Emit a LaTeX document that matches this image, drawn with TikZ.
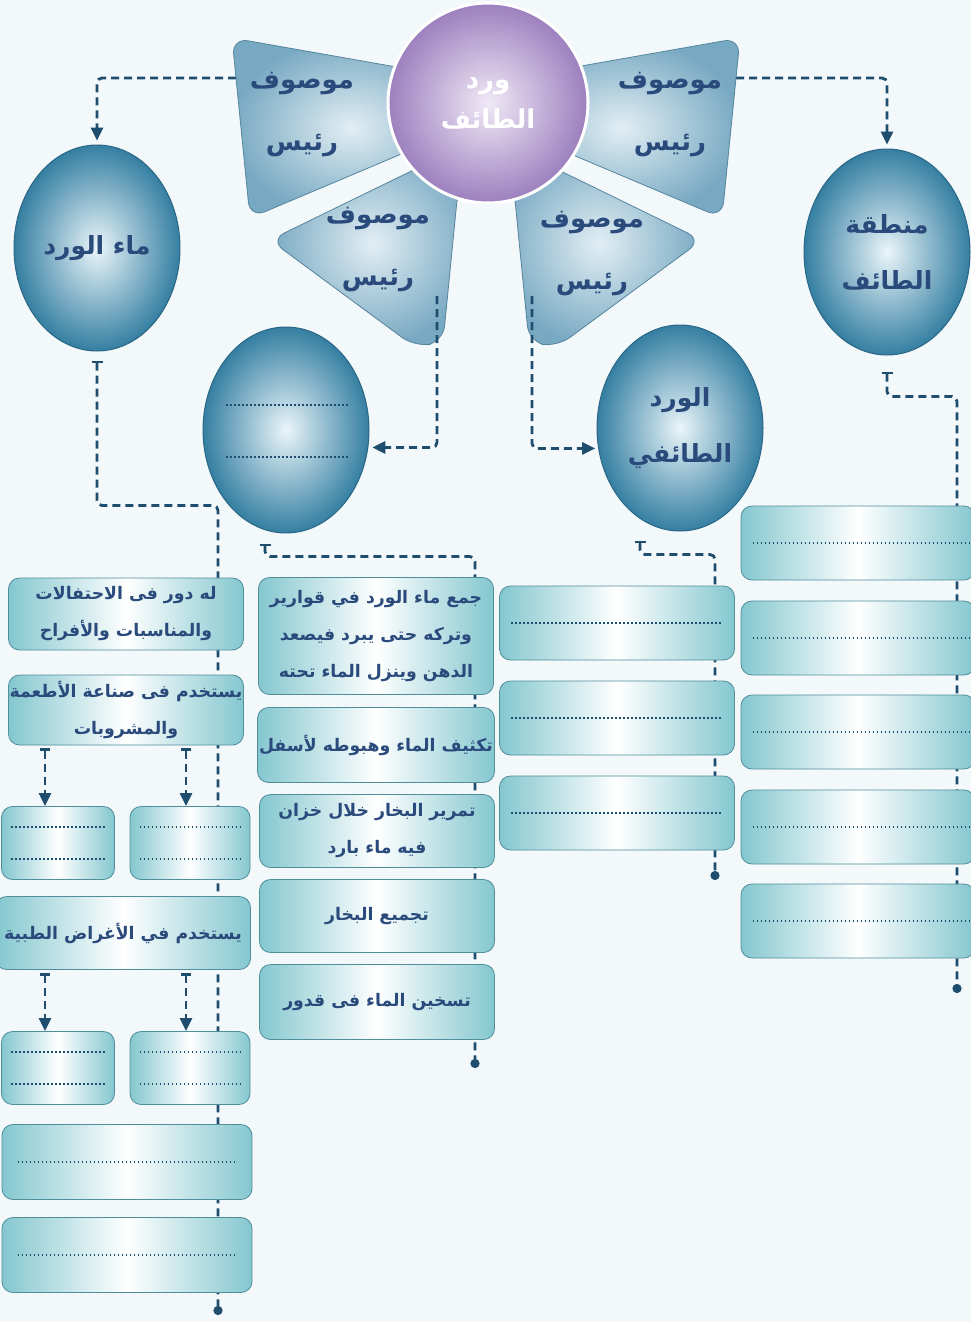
\documentclass[tikz,border=0pt]{standalone}
\usepackage{fontspec}
\usetikzlibrary{arrows.meta,shapes.geometric}
\newfontfamily\arabicfont[Script=Arabic]{DejaVu Sans}
\TeXXeTstate=1
\newcommand{\ar}[1]{\beginR#1\endR}
\definecolor{pageBack}{HTML}{F3F8FB}
\definecolor{bubbleEdge}{HTML}{357FA2}
\definecolor{bubbleCore}{HTML}{EAF5F9}
\definecolor{bubbleRule}{HTML}{2B6784}
\definecolor{petalEdge}{HTML}{78A9C2}
\definecolor{petalCore}{HTML}{E2EEF4}
\definecolor{petalRule}{HTML}{55849D}
\definecolor{hubEdge}{HTML}{9C80BE}
\definecolor{hubCore}{HTML}{F0E9F6}
\definecolor{boxTeal}{HTML}{84C7CF}
\definecolor{boxRule}{HTML}{4F8E9A}
\definecolor{inkNavy}{HTML}{2A4A7C}
\definecolor{linkNavy}{HTML}{1F4D6D}
\pgfdeclarelayer{back}
\pgfdeclarelayer{links}
\pgfsetlayers{back,links,main}

\begin{document}
\begin{tikzpicture}[x=1pt,y=-1pt,
    bubble/.style={ellipse,draw=bubbleRule,line width=1pt,
                   inner color=bubbleCore,outer color=bubbleEdge,
                   minimum width=166pt,minimum height=206pt,inner sep=0pt,
                   align=center,text=inkNavy,
                   font=\arabicfont\bfseries\fontsize{25}{56}\selectfont},
    petal/.style={draw=petalRule,line width=0.8pt,rounded corners=16pt,
                  inner color=petalCore,outer color=petalEdge},
    petaltext/.style={text=inkNavy,align=center,
                      font=\arabicfont\bfseries\fontsize{26}{62}\selectfont},
    card/.style={rectangle,rounded corners=11pt,draw=boxRule,line width=0.8pt,
                 left color=boxTeal,right color=boxTeal,middle color=white,
                 inner sep=0pt,align=center,text=inkNavy,
                 font=\arabicfont\bfseries\fontsize{17.3}{37}\selectfont},
    flow/.style={draw=linkNavy,line width=2.8pt,dash pattern=on 8pt off 5pt,
                 rounded corners=5pt},
    dotrule/.style={draw=linkNavy,line width=1.5pt,dash pattern=on 1.5pt off 2.5pt},
    tipin/.style={-{Triangle[length=13pt,width=12pt]}},
    tipflow/.style={{Bar[width=11pt]}-{Circle[length=9pt]}},
    tipdown/.style={{Bar[width=10pt]}-{Triangle[length=13pt,width=12pt]}}]

  \begin{pgfonlayer}{back}
    \fill[pageBack] (0,0) rectangle (971,1322);
  \end{pgfonlayer}
  \useasboundingbox (0,0) rectangle (971,1322);

  % petals round the hub
  \path[petal] (470,80) -- (232,38) -- (250,218) -- (470,125) -- cycle;
  \path[petal] (502,80) -- (740,38) -- (722,218) -- (502,125) -- cycle;
  \path[petal] (475,140) -- (270,240) -- (415,347) -- (443,342) -- (458,190) -- cycle;
  \path[petal] (497,140) -- (702,240) -- (557,347) -- (529,342) -- (514,190) -- cycle;

  \node[circle,minimum size=200pt,inner sep=0pt,inner color=hubCore,outer color=hubEdge,
        draw=white,line width=3pt,align=center,text=white,
        font=\arabicfont\bfseries\fontsize{26}{40}\selectfont] (hub) at (488,103)
        {\ar{ورد}\\\ar{الطائف}};

  \node[petaltext] (tTL) at (302,115) {\ar{موصوف}\\\ar{رئيس}};
  \node[petaltext] (tTR) at (670,115) {\ar{موصوف}\\\ar{رئيس}};
  \node[petaltext] (tBL) at (378,250) {\ar{موصوف}\\\ar{رئيس}};
  \node[petaltext] (tBR) at (592,254) {\ar{موصوف}\\\ar{رئيس}};

  \coordinate (pTL) at (236,78);
  \coordinate (pTR) at (736,78);
  \coordinate (pBL) at (437,296);
  \coordinate (pBR) at (532,296);

  % bubbles
  \node[bubble] (ellL) at (97,248) {\ar{ماء الورد}};
  \node[bubble] (ellR) at (887,252) {\ar{منطقة}\\\ar{الطائف}};
  \node[bubble] (ellML) at (286,430) {};
  \node[bubble] (ellMR) at (680,428) {\ar{الورد}\\\ar{الطائفي}};
  \draw[dotrule] (226,405) -- (348,405);
  \draw[dotrule] (226,457) -- (348,457);

  % left column
  \node[card,minimum width=235pt,minimum height=72pt] (B1) at (126,614)
       {\ar{له دور فى الاحتفالات}\\\ar{والمناسبات والأفراح}};
  \node[card,minimum width=235pt,minimum height=70pt] (B2) at (126,710)
       {\ar{يستخدم فى صناعة الأطعمة}\\\ar{والمشروبات}};
  \node[card,minimum width=255pt,minimum height=73pt] (B3) at (123,933)
       {\ar{يستخدم في الأغراض الطبية}};
  \foreach \nm/\cx/\cy/\bw in {SB1/58/843/113, SB2/190/843/120,
                               SB3/58/1068/113, SB4/190/1068/120} {
    \node[card,minimum width=\bw pt,minimum height=73pt] (\nm) at (\cx,\cy) {};
    \draw[dotrule] ([xshift=10pt,yshift=16pt]\nm.west) -- ([xshift=-10pt,yshift=16pt]\nm.east);
    \draw[dotrule] ([xshift=10pt,yshift=-16pt]\nm.west) -- ([xshift=-10pt,yshift=-16pt]\nm.east);
  }
  \foreach \nm/\cy in {B4/1162, B5/1255} {
    \node[card,minimum width=250pt,minimum height=75pt] (\nm) at (127,\cy) {};
    \draw[dotrule] ([xshift=16pt]\nm.west) -- ([xshift=-16pt]\nm.east);
  }
  \coordinate (endL) at (218,1315);

  % middle column
  \node[card,minimum width=235pt,minimum height=117pt] (M1) at (376,636)
       {\ar{جمع ماء الورد في قوارير}\\\ar{وتركه حتى يبرد فيصعد}\\\ar{الدهن وينزل الماء تحته}};
  \node[card,minimum width=237pt,minimum height=75pt] (M2) at (376,745)
       {\ar{تكثيف الماء وهبوطه لأسفل}};
  \node[card,minimum width=235pt,minimum height=73pt] (M3) at (377,831)
       {\ar{تمرير البخار خلال خزان}\\\ar{فيه ماء بارد}};
  \node[card,minimum width=235pt,minimum height=73pt] (M4) at (377,916)
       {\ar{تجميع البخار}};
  \node[card,minimum width=235pt,minimum height=75pt] (M5) at (377,1002)
       {\ar{تسخين الماء فى قدور}};
  \coordinate (endM) at (475,1068);

  % right-middle column
  \foreach \nm/\cy in {R1/623, R2/718, R3/813} {
    \node[card,minimum width=235pt,minimum height=74pt] (\nm) at (617,\cy) {};
    \draw[dotrule] ([xshift=12pt]\nm.west) -- ([xshift=-12pt]\nm.east);
  }
  \coordinate (endMR) at (715,880);

  % right column
  \foreach \nm/\cy in {RR1/543, RR2/638, RR3/732, RR4/827, RR5/921} {
    \node[card,minimum width=234pt,minimum height=74pt] (\nm) at (858,\cy) {};
    \draw[dotrule] ([xshift=12pt]\nm.west) -- ([xshift=-6pt]\nm.east);
  }
  \coordinate (endR) at (957,993);

  % links
  \begin{pgfonlayer}{links}
    \draw[flow,tipin,shorten >=4pt] (pTL) -| (ellL.north);
    \draw[flow,tipin,shorten >=4pt] (pTR) -| (ellR.north);
    \draw[flow,tipflow] ([yshift=-9pt]ellL.south) -- ++(0,145) -| (endL);
    \draw[flow,tipflow] ([xshift=-21pt,yshift=-10pt]ellML.south) -- ++(0,13) -| (endM);
    \draw[flow,tipflow] ([xshift=-40pt,yshift=-9pt]ellMR.south) -- ++(0,14) -| (endMR);
    \draw[flow,tipflow] ([yshift=-16pt]ellR.south) -- ++(0,25) -| (endR);
  \end{pgfonlayer}
  \draw[flow,tipin,shorten >=4pt] (pBL) |- (ellML.-12);
  \draw[flow,tipin,shorten >=3pt] (pBR) |- (ellMR.194);
  \draw[flow,tipdown,shorten <=3pt] ([xshift=-13pt]SB1.north |- B2.south) -- ([xshift=-13pt]SB1.north);
  \draw[flow,tipdown,shorten <=3pt] ([xshift=-4pt]SB2.north |- B2.south) -- ([xshift=-4pt]SB2.north);
  \draw[flow,tipdown,shorten <=3pt] ([xshift=-13pt]SB3.north |- B3.south) -- ([xshift=-13pt]SB3.north);
  \draw[flow,tipdown,shorten <=3pt] ([xshift=-4pt]SB4.north |- B3.south) -- ([xshift=-4pt]SB4.north);
\end{tikzpicture}
\end{document}
